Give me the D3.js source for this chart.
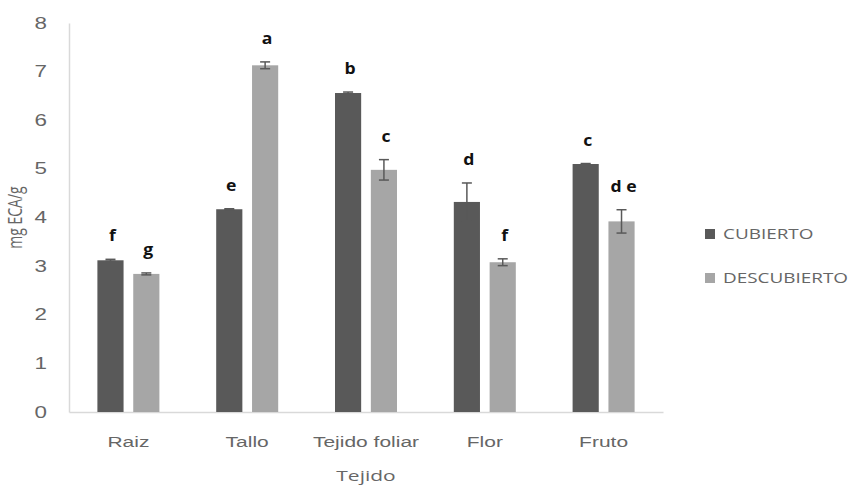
<!DOCTYPE html>
<html>
<head>
<meta charset="utf-8">
<script src="https://cdn.jsdelivr.net/npm/d3@7"></script>
<style>
  body { margin: 0; background: #fff; }
  svg { font-family: "Open Sans", "Noto Sans", sans-serif; }
</style>
</head>
<body>
<svg id="chart" width="853" height="486"></svg>
<script>
// data
var tejidos = ["Raiz", "Tallo", "Tejido foliar", "Flor", "Fruto"];
var series = ["CUBIERTO", "DESCUBIERTO"];
var cubierto = [3.12, 4.17, 6.56, 4.32, 5.1];
var descubierto = [2.84, 7.13, 4.98, 3.08, 3.92];
var errCubierto = [0.02, 0.01, 0.02, 0.39, 0.01];
var errDescubierto = [0.02, 0.07, 0.21, 0.07, 0.24];
var letrasCubierto = ["f", "e", "b", "d", "c"];
var letrasDescubierto = ["g", "a", "c", "f", "d e"];
var yTicks = [0, 1, 2, 3, 4, 5, 6, 7, 8];

var colors = { CUBIERTO: "#595959", DESCUBIERTO: "#a6a6a6" };
var stretch = 1.4; // the original figure is widened horizontally

var svg = d3.select("#chart"),
  margin = { top: 23, left: 69, bottom: 74, right: 190 },
  width = +svg.attr("width"),
  height = +svg.attr("height");

var x = d3
  .scaleBand()
  .domain(tejidos)
  .range([margin.left, width - margin.right])
  .padding(0);

var xs = d3
  .scaleBand()
  .domain(series)
  .range([x.bandwidth() / 2 - 31, x.bandwidth() / 2 + 31])
  .paddingInner(0.27);

var y = d3.scaleLinear().domain([0, 8]).range([height - margin.bottom, margin.top]);

var data = tejidos.map((t, i) => ({
  tejido: t,
  vals: [
    { key: "CUBIERTO", v: cubierto[i], e: errCubierto[i], l: letrasCubierto[i] },
    { key: "DESCUBIERTO", v: descubierto[i], e: errDescubierto[i], l: letrasDescubierto[i] },
  ],
}));

// y axis
var yAxis = svg
  .append("g")
  .attr("transform", `translate(${margin.left},0)`)
  .call(d3.axisLeft(y).tickValues(yTicks).tickSize(0).tickPadding(22));
yAxis.select(".domain").attr("stroke", "#d9d9d9").attr("stroke-width", 1.5);
yAxis
  .selectAll("text")
  .attr("fill", "#666")
  .attr("x", -22 / stretch)
  .attr("transform", `scale(${stretch},1)`)
  .style("font-size", "16px");

// x axis
var xAxis = svg
  .append("g")
  .attr("transform", `translate(0,${height - margin.bottom})`)
  .call(d3.axisBottom(x).tickSize(0).tickPadding(24).tickSizeOuter(0));
xAxis.select(".domain").attr("stroke", "#d9d9d9").attr("stroke-width", 1.5);
xAxis
  .selectAll("text")
  .attr("fill", "#666")
  .attr("transform", `scale(${stretch},1)`)
  .style("font-size", "15px");

var groups = svg
  .selectAll("g.grp")
  .data(data)
  .enter()
  .append("g")
  .attr("class", "grp")
  .attr("transform", (d) => `translate(${x(d.tejido)},0)`);

var items = groups
  .selectAll("g.item")
  .data((d) => d.vals)
  .enter()
  .append("g")
  .attr("class", "item");

items
  .append("rect")
  .attr("x", (d) => xs(d.key))
  .attr("width", xs.bandwidth())
  .attr("y", (d) => y(d.v))
  .attr("height", (d) => y(0) - y(d.v))
  .attr("fill", (d) => colors[d.key]);

// error bars
var cx = (d) => xs(d.key) + xs.bandwidth() / 2;
items
  .append("line")
  .attr("x1", cx)
  .attr("x2", cx)
  .attr("y1", (d) => y(d.v + d.e))
  .attr("y2", (d) => y(d.v - d.e))
  .attr("stroke", "#595959")
  .attr("stroke-width", 1.5);
items
  .selectAll("line.cap")
  .data((d) => [
    { d: d, v: d.v + d.e },
    { d: d, v: d.v - d.e },
  ])
  .enter()
  .append("line")
  .attr("class", "cap")
  .attr("x1", (c) => cx(c.d) - 5)
  .attr("x2", (c) => cx(c.d) + 5)
  .attr("y1", (c) => y(c.v))
  .attr("y2", (c) => y(c.v))
  .attr("stroke", "#595959")
  .attr("stroke-width", 1.5);

// letters
items
  .append("text")
  .attr("transform", (d) => `translate(${cx(d) + 2},${y(d.v + d.e) - 18}) scale(1.1,1)`)
  .attr("text-anchor", "middle")
  .attr("fill", "#111")
  .style("font-size", "16px")
  .style("font-weight", "bold")
  .text((d) => d.l);

// axis titles
svg
  .append("text")
  .attr("transform", `translate(22,${(y(0) + y(8)) / 2}) rotate(-90) scale(1,${stretch})`)
  .attr("text-anchor", "middle")
  .attr("fill", "#666")
  .style("font-size", "14px")
  .text("mg ECA/g");

svg
  .append("text")
  .attr("transform", `translate(${(margin.left + width - margin.right) / 2},481) scale(${stretch},1)`)
  .attr("text-anchor", "middle")
  .attr("fill", "#666")
  .style("font-size", "15px")
  .text("Tejido");

// legend
var legend = svg
  .selectAll("g.leg")
  .data(series)
  .enter()
  .append("g")
  .attr("class", "leg")
  .attr("transform", (d, i) => `translate(705,${234 + i * 44})`);
legend
  .append("rect")
  .attr("x", 0)
  .attr("y", -5)
  .attr("width", 10)
  .attr("height", 10)
  .attr("fill", (d) => colors[d]);
legend
  .append("text")
  .attr("transform", `translate(18,0) scale(1.35,1)`)
  .attr("dy", "0.35em")
  .attr("fill", "#666")
  .style("font-size", "14px")
  .text((d) => d);
</script>
</body>
</html>
